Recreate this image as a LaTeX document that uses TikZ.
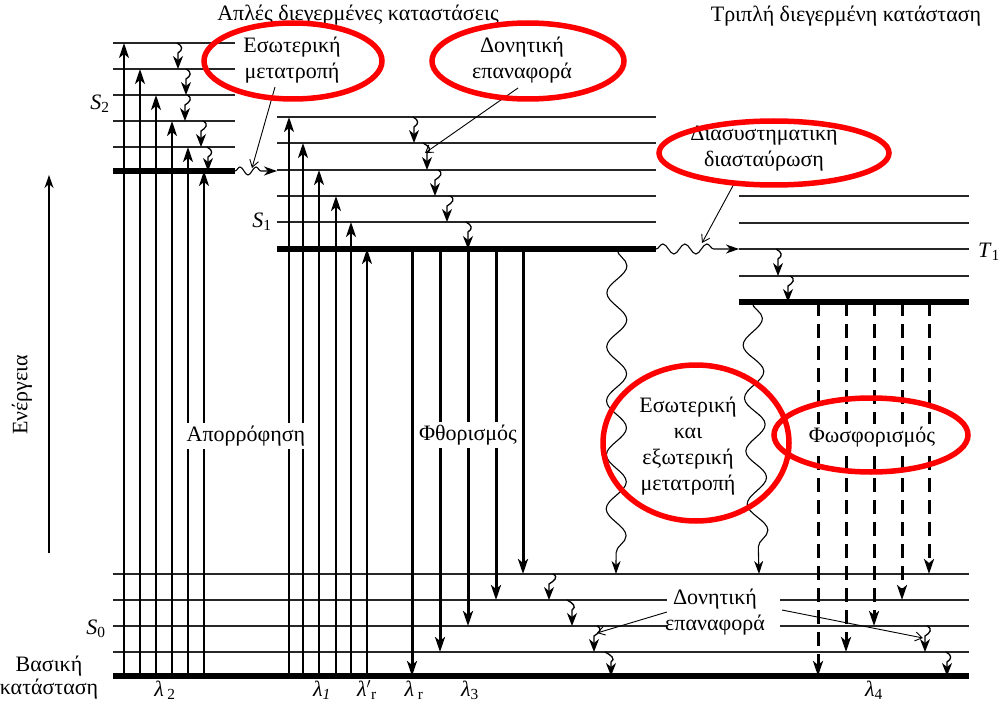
\documentclass[tikz,border=0pt]{standalone}
\usepackage{fontspec}
\setmainfont{Liberation Serif}
\usetikzlibrary{arrows.meta,decorations.pathmorphing}
\newcommand\vibarr[4]{\draw[vib] (#1,#2) .. controls (#1+6,#2+3) and (#3+5,#2+7) .. (#3,#2+10) -- (#3,#4);}
\begin{document}
\begin{tikzpicture}[x=1pt,y=-1pt,
  lvl/.style={line width=1.5pt,draw=black!85},
  thk/.style={line width=5.5pt},
  absarr/.style={line width=2.2pt,-{Stealth[length=15pt,width=10pt,inset=4pt]}},
  fluo/.style={line width=3pt,-{Stealth[length=15pt,width=10pt,inset=4pt]}},
  phos/.style={line width=3pt,dash pattern=on 14pt off 8pt,-{Stealth[length=15pt,width=10pt,inset=4pt]}},
  vib/.style={line width=1.3pt,-{Stealth[length=13pt,width=10pt,inset=4pt]}},
  wavy/.style={line width=1.1pt,decorate,-{Stealth[length=13pt,width=9pt,inset=4pt]}},
  ptr/.style={line width=0.9pt,-{Straight Barb[length=7pt,width=9pt]}},
  hl/.style={draw=red,line width=5.5pt},
  lbl/.style={font=\fontsize{22}{26}\selectfont,align=center,inner sep=1pt}]
\useasboundingbox (0,0) rectangle (1002,706);

% energy axis
\draw[line width=1.3pt,-{Stealth[length=13pt,width=9pt,inset=4pt]}] (49,553) -- (49,175);
\node[lbl,rotate=90] (en) at (22,395) {Ενέργεια};

% S2 levels
\foreach \y in {43,69,95,121,147} \draw[lvl] (113,\y) -- (235,\y);
\draw[thk] (113,171) -- (235,171);
% S1 levels
\foreach \y in {117,143,170,196,222} \draw[lvl] (277,\y) -- (656,\y);
\draw[thk] (277,249) -- (656,249);
% T1 levels
\foreach \y in {196,223,249,276} \draw[lvl] (739,\y) -- (969,\y);
\draw[thk] (739,302) -- (969,302);
% S0 levels
\draw[lvl] (113,574) -- (969,574);
\draw[lvl] (113,600) -- (667,600);
\draw[lvl] (780,600) -- (969,600);
\draw[lvl] (113,626) -- (667,626);
\draw[lvl] (780,626) -- (969,626);
\draw[lvl] (113,652) -- (969,652);
\draw[thk] (113,676) -- (969,676);

% absorption
\foreach \x/\y in {124/43,140/69,156/95,172/121,188/147,204/171}
  \draw[absarr] (\x,676) -- (\x,\y);
\foreach \x/\y in {289/117,303/143,319/170,336/196,351/222,367/249}
  \draw[absarr] (\x,676) -- (\x,\y);

% fluorescence
\foreach \x/\y in {412/676,440/652,468/626,496/600,523/574}
  \draw[fluo] (\x,249) -- (\x,\y);

% phosphorescence
\foreach \x/\y in {818/676,846/652,874/626,902/600,929/574}
  \draw[phos] (\x,302) -- (\x,\y);

% vibrational relaxation
\vibarr{177}{43}{178}{69}
\vibarr{186}{69}{186}{95}
\vibarr{187}{95}{185}{121}
\vibarr{203}{121}{201}{147}
\vibarr{207}{147}{208}{171}
\vibarr{413}{117}{414}{143}
\vibarr{423}{143}{427}{170}
\vibarr{438}{170}{435}{196}
\vibarr{450}{196}{447}{222}
\vibarr{466}{222}{468}{249}
\vibarr{776}{249}{778}{276}
\vibarr{790}{276}{788}{302}
\vibarr{553}{574}{549}{600}
\vibarr{567}{600}{572}{626}
\vibarr{597}{626}{594}{652}
\vibarr{605}{652}{611}{676}
\vibarr{927}{626}{925}{652}
\vibarr{946}{652}{947}{676}

% wavy transitions
\draw[wavy,decoration={snake,amplitude=4pt,segment length=16pt,post length=14pt}] (235,171) -- (277,171);
\draw[wavy,decoration={snake,amplitude=5pt,segment length=22pt,post length=20pt}] (656,249) -- (739,249);
\draw[wavy,decoration={snake,amplitude=10pt,segment length=54pt,post length=16pt}] (617,249) -- (616,574);
\draw[wavy,decoration={snake,amplitude=10pt,segment length=53pt,post length=16pt}] (752,302) -- (759,574);

% labels
\node[lbl] (tS) at (358,15) {Απλές διεγερμένες καταστάσεις};
\node[lbl] (tT) at (846,16) {Τριπλή διεγερμένη κατάσταση};
\node[lbl] (s2) at (100,104) {\textit{S}\textsubscript{2}};
\node[lbl] (s1) at (262,222) {\textit{S}\textsubscript{1}};
\node[lbl] (s0) at (96,629) {\textit{S}\textsubscript{0}};
\node[lbl] (t1) at (989,252) {\textit{T}\textsubscript{1}};
\node[lbl] (gs) at (49,678) {Βασική\\[-3pt]κατάσταση};
\node[lbl] (l2) at (165,690) {\textit{λ}\,\textsubscript{2}};
\node[lbl] (l1) at (322,690) {\textit{λ}\textsubscript{\textit{1}}};
\node[lbl] (lrp) at (367,690) {\textit{λ}$'$\textsubscript{r}};
\node[lbl] (lr) at (414,690) {\textit{λ}\,\textsubscript{r}};
\node[lbl] (l3) at (470,690) {\textit{λ}\textsubscript{3}};
\node[lbl] (l4) at (874,690) {\textit{λ}\textsubscript{4}};

\node[lbl,fill=white,inner sep=3pt] (apo) at (246,436) {Απορρόφηση};
\node[lbl,fill=white,inner sep=3pt] (fth) at (468,435) {Φθορισμός};
\node[lbl,fill=white,inner sep=3pt] (fos) at (872,437) {Φωσφορισμός};
\node[lbl] (ic1) at (292,60) {Εσωτερική\\μετατροπή};
\node[lbl] (vr1) at (522,60) {Δονητική\\επαναφορά};
\node[lbl] (isc) at (764,148) {Διασυστηματική\\διασταύρωση};
\node[lbl] (ic2) at (688,446) {Εσωτερική\\και\\εξωτερική\\μετατροπή};
\node[lbl] (vr2) at (715,612) {Δονητική\\επαναφορά};

% pointers
\draw[ptr] (275,87) -- (252,168);
\draw[ptr] (518,88) -- (425,153);
\draw[ptr] (735,182) -- (702,243);
\draw[ptr] (667,612) -- (597,633);
\draw[ptr] (782,610) -- (923,638);

% red highlights
\draw[hl] (293,61) ellipse [x radius=89, y radius=38];
\draw[hl] (528,61) ellipse [x radius=96, y radius=38];
\draw[hl] (774,153) ellipse [x radius=115, y radius=32];
\draw[hl] (696,443) ellipse [x radius=93, y radius=78];
\draw[hl] (871,435) ellipse [x radius=97, y radius=37];
\end{tikzpicture}
\end{document}
